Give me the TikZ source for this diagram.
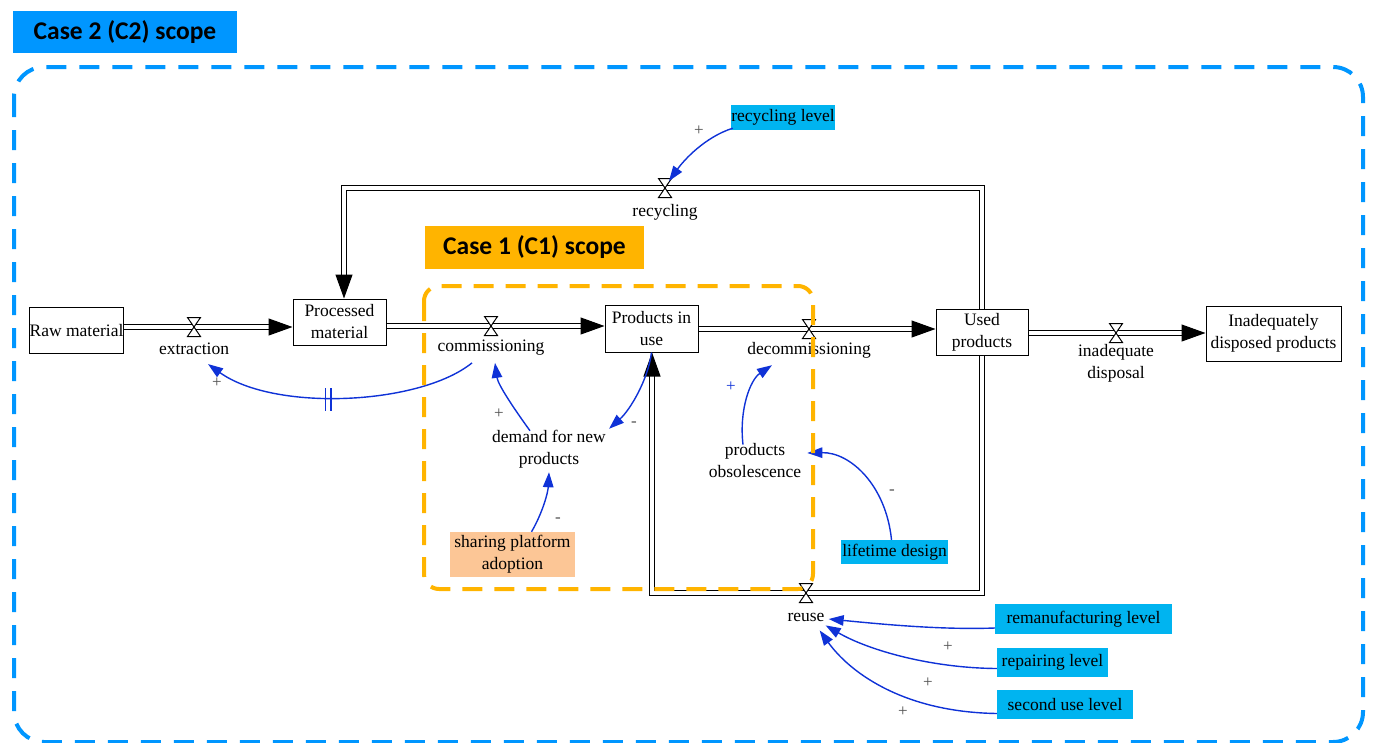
\documentclass[tikz,border=0pt]{standalone}
\usepackage{fontspec}
\setmainfont{Liberation Serif}
\newfontfamily\labelfont{Carlito}
\usetikzlibrary{arrows.meta,calc}
\definecolor{cbl}{RGB}{0,150,255}
\definecolor{auxbl}{RGB}{0,180,240}
\definecolor{corg}{RGB}{255,180,0}
\definecolor{peach}{RGB}{252,198,150}
\definecolor{lnk}{RGB}{15,50,215}
\definecolor{sgn}{RGB}{80,80,80}
\tikzset{
  stock/.style={draw, line width=1pt, fill=white, inner sep=0pt, align=center, minimum width=93pt, minimum height=46pt},
  aux/.style={fill=auxbl, inner sep=0pt, align=center},
  lbl/.style={inner sep=1pt, align=center},
  pipe/.style={draw=black, line width=1.1pt, double=white, double distance=3.4pt, line join=miter},
  pipehead/.style={-{Triangle[length=24pt,width=17pt]}},
  link/.style={draw=lnk, line width=1.4pt, -{Triangle[length=15pt,width=10.5pt]}},
  sign/.style={text=sgn, font=\fontsize{17}{17}\selectfont, inner sep=0pt},
  scopelabel/.style={font=\labelfont\bfseries\fontsize{25.5}{25.5}\selectfont, inner sep=0pt},
  valve/.pic={\draw[fill=white, line width=1pt] (-6.5,-9.5) -- (6.5,-9.5) -- (-6.5,9.5) -- (6.5,9.5) -- cycle;}
}
\begin{document}
\begin{tikzpicture}[x=1pt, y=-1pt, font=\fontsize{17.5}{22}\selectfont]
\useasboundingbox (0,0) rectangle (1373,742);

% scope labels
\node[scopelabel, fill=cbl, minimum width=224pt, minimum height=42pt] (c2) at (125,32) {Case 2 (C2) scope};
\node[scopelabel, fill=corg, minimum width=219pt, minimum height=43pt] (c1) at (534.5,247.5) {Case 1 (C1) scope};

% stocks
\node[stock] (raw) at (76.5,330.5) {Raw material};
\node[stock] (proc) at (339.5,322) {Processed\\material};
\node[stock, minimum height=47pt] (piu) at (651.5,328.5) {Products in\\use};
\node[stock, minimum width=92pt] (used) at (982,332) {Used\\products};
\node[stock, minimum width=135pt, minimum height=55pt] (inad) at (1273.5,333.5) {Inadequately\\disposed products};

% valve coordinates
\coordinate (vext) at (194,327);
\coordinate (vcomm) at (491,326);
\coordinate (vdec) at (809,329);
\coordinate (vinad) at (1116,333);
\coordinate (vrec) at (665,188);
\coordinate (vreuse) at (806,593);
\coordinate (recin) at ($(proc.north)+(4.5,0)$);
\coordinate (reusein) at ($(piu.south)+(0.5,0)$);

% pipes
\draw[pipe, pipehead] (raw.east |- vext) -- (proc.west |- vext);
\draw[pipe, pipehead] (proc.east |- vcomm) -- (piu.west |- vcomm);
\draw[pipe, pipehead] (piu.east |- vdec) -- (used.west |- vdec);
\draw[pipe, pipehead] (used.east |- vinad) -- (inad.west |- vinad);
\draw[pipe, pipehead] (used.north) |- (vrec) -| (recin);
\draw[pipe, pipehead] (used.south) |- (vreuse) -| (reusein);

\pic at (vext) {valve};
\pic at (vcomm) {valve};
\pic at (vdec) {valve};
\pic at (vinad) {valve};
\pic at (vrec) {valve};
\pic at (vreuse) {valve};

% flow labels
\node[lbl] (lext) at (194,349) {extraction};
\node[lbl] (lcomm) at (491,348) {commissioning};
\node[lbl] (ldec) at (809,350) {decommissioning};
\node[lbl] (linad) at (1116,363) {inadequate\\disposal};
\node[lbl] (lrec) at (665,212) {recycling};
\node[lbl] (lreuse) at (806,617) {reuse};

% auxiliaries
\node[lbl] (demand) at (549,449) {demand for new\\products};
\node[lbl] (obso) at (755,461) {products\\obsolescence};
\node[aux, minimum width=104pt, minimum height=25pt] (reclev) at (783,117.5) {recycling level};
\node[aux, minimum width=107pt, minimum height=24pt] (life) at (894.5,552) {lifetime design};
\node[aux, minimum width=177pt, minimum height=30pt] (reman) at (1083.5,619) {remanufacturing level};
\node[aux, minimum width=111pt, minimum height=29pt] (repair) at (1052.5,662.5) {repairing level};
\node[aux, minimum width=136pt, minimum height=29pt] (second) at (1065,704.5) {second use level};
\node[fill=peach, minimum width=125pt, minimum height=45pt, inner sep=0pt, align=center] (share) at (512.5,554.5) {sharing platform\\adoption};

% links
\draw[link] ($(lcomm.south)+(-19,6)$) .. controls (420,405) and (275,412) .. ($(lext.south)+(14,8)$);
\draw[lnk, line width=1.2pt] (325.5,388) -- (325.5,411) (331,388) -- (331,411);
\draw[link] ($(demand.north)+(-19,2)$) .. controls (515,410) and (498,385) .. ($(lcomm.south)+(4,6)$);
\draw[link] (piu.south) .. controls (648,380) and (630,410) .. ($(demand.north east)+(2,0)$);
\draw[link] ($(share.north)+(19,0)$) .. controls (543,512) and (548,492) .. ($(demand.south)+(0,3)$);
\draw[link] ($(obso.north)+(-12,2)$) .. controls (739,410) and (750,380) .. ($(ldec.south)+(-37,6)$);
\draw[link] ($(life.north)+(-3,0)$) .. controls (886,485) and (850,452) .. ($(obso.east)+(5,-8)$);
\draw[link] ($(reclev.south west)+(2,-2)$) .. controls (705,137) and (684,160) .. ($(vrec)+(4,-7)$);
\draw[link] ($(reman.west)+(0,9)$) .. controls (940,630) and (880,624) .. ($(lreuse.east)+(3,2)$);
\draw[link] ($(repair.west)+(0,6)$) .. controls (930,668) and (868,650) .. ($(lreuse.south east)+(0,3)$);
\draw[link] ($(second.west)+(0,9)$) .. controls (900,712) and (848,670) .. ($(lreuse.south east)+(-6,8)$);

% polarity signs
\node[sign] (s1) at (217,383) {+};
\node[sign] (s2) at (499,414) {+};
\node[sign] (s3) at (634,424) {-};
\node[sign] (s4) at (558,520) {-};
\node[sign, text=lnk] (s5) at (731,387) {+};
\node[sign] (s6) at (892,492) {-};
\node[sign] (s7) at (699,131) {+};
\node[sign] (s8) at (948,647) {+};
\node[sign] (s9) at (928,683) {+};
\node[sign] (s10) at (903,712) {+};

% scope boundaries
\draw[cbl, line width=4pt, dash pattern=on 20pt off 13pt, rounded corners=30pt] (14,67) rectangle (1363,742);
\draw[corg, line width=4pt, dash pattern=on 20pt off 12pt, rounded corners=15pt] (424,286) rectangle (813,589);
\end{tikzpicture}
\end{document}
